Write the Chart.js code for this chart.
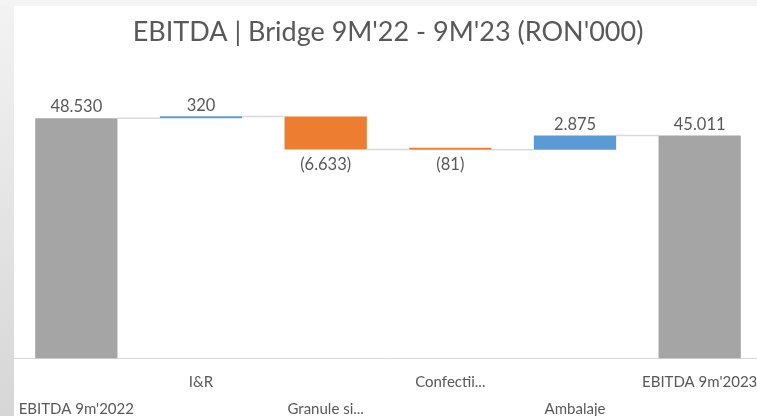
<!DOCTYPE html>
<html>
<head>
<meta charset="utf-8">
<script src="https://cdn.jsdelivr.net/npm/chart.js@4.4.0/dist/chart.umd.min.js"></script>
<style>
  html, body { margin: 0; padding: 0; width: 757px; height: 416px; overflow: hidden; }
  body { background: linear-gradient(to bottom, #f3f3f3, #d6d6d6); position: relative; }
  .topband { position: absolute; left: 0; top: 0; width: 757px; height: 6px; background: #f4f4f4; }
  .box { position: absolute; left: 14px; top: 6px; width: 748px; height: 419px; background: #fff; }
</style>
</head>
<body>
<div class="topband"></div>
<div class="box"><canvas id="bridge"></canvas></div>
<script>
// EBITDA bridge 9M'22 -> 9M'23, RON'000

const categories = ["EBITDA 9m'2022", 'I&R', 'Granule si...', 'Confectii...', 'Ambalaje', "EBITDA 9m'2023"];
const startTotal = 48530;
const deltas = [320, -6633, -81, 2875];   // I&R, Granule, Confectii, Ambalaje
const endTotal = 45011;

const grey = '#a5a5a5';
const orange = '#ed7d31';
const blue = '#5b9bd5';

// floating bars [from, to]
const ranges = [[0, startTotal]];
const values = [startTotal];
let running = startTotal;
deltas.forEach(d => {
    ranges.push([running, running + d]);
    values.push(d);
    running += d;
});
ranges.push([0, endTotal]);
values.push(endTotal);

const colors = values.map((v, i) => {
    if (i === 0 || i === values.length - 1) return grey;
    return v < 0 ? orange : blue;
});

function fmt(v) {
    const s = String(Math.abs(v)).replace(/\B(?=(\d{3})+(?!\d))/g, '.');
    return v < 0 ? '(' + s + ')' : s;
}

// connector lines between bars + value labels
const bridgePlugin = {
    id: 'bridge',
    afterDatasetsDraw(chart) {
        const ctx = chart.ctx;
        const y = chart.scales.y;
        const bars = chart.getDatasetMeta(0).data;
        ctx.save();
        ctx.strokeStyle = '#d9d9d9';
        ctx.lineWidth = 1.5;
        for (let i = 0; i < bars.length - 1; i++) {
            const level = y.getPixelForValue(ranges[i][1]);
            const x1 = bars[i].x + bars[i].width / 2;
            const x2 = bars[i + 1].x - bars[i + 1].width / 2;
            ctx.beginPath();
            ctx.moveTo(x1, level);
            ctx.lineTo(x2, level);
            ctx.stroke();
        }
        ctx.fillStyle = '#595959';
        ctx.font = '16.5px Lato';
        ctx.textAlign = 'center';
        bars.forEach((bar, i) => {
            const top = y.getPixelForValue(Math.max(ranges[i][0], ranges[i][1]));
            const bottom = y.getPixelForValue(Math.min(ranges[i][0], ranges[i][1]));
            if (values[i] < 0) {
                ctx.textBaseline = 'top';
                ctx.fillText(fmt(values[i]), bar.x, bottom + 7);
            } else {
                ctx.textBaseline = 'bottom';
                ctx.fillText(fmt(values[i]), bar.x, top - 3);
            }
        });
        ctx.restore();
    }
};

new Chart(document.getElementById('bridge'), {
    type: 'bar',
    data: {
        labels: categories,
        datasets: [{
            data: ranges,
            backgroundColor: colors,
            borderWidth: 0,
            minBarLength: 2,
            categoryPercentage: 1,
            barPercentage: 0.66
        }]
    },
    options: {
        responsive: true,
        maintainAspectRatio: false,
        animation: false,
        layout: { padding: { left: 0, right: 0, top: 0, bottom: 0 } },
        plugins: {
            legend: { display: false },
            tooltip: { enabled: false },
            title: {
                display: true,
                text: "EBITDA | Bridge 9M'22 - 9M'23 (RON'000)",
                color: '#595959',
                font: { family: 'Lato', size: 27, weight: 'normal' },
                padding: { top: 10, bottom: 13 }
            }
        },
        scales: {
            x: {
                grid: { display: false },
                border: { display: true, color: '#d9d9d9', width: 1 },
                ticks: {
                    autoSkip: false,
                    maxRotation: 0,
                    color: '#595959',
                    padding: 3,
                    font: { family: 'Lato', size: 15, lineHeight: 1.75 },
                    callback: function (val, idx) {
                        const label = this.getLabelForValue(val);
                        return idx % 2 === 0 ? ['', label] : label;
                    }
                }
            },
            y: {
                display: false,
                min: 0,
                max: 60000
            }
        }
    },
    plugins: [bridgePlugin]
});
</script>
</body>
</html>
